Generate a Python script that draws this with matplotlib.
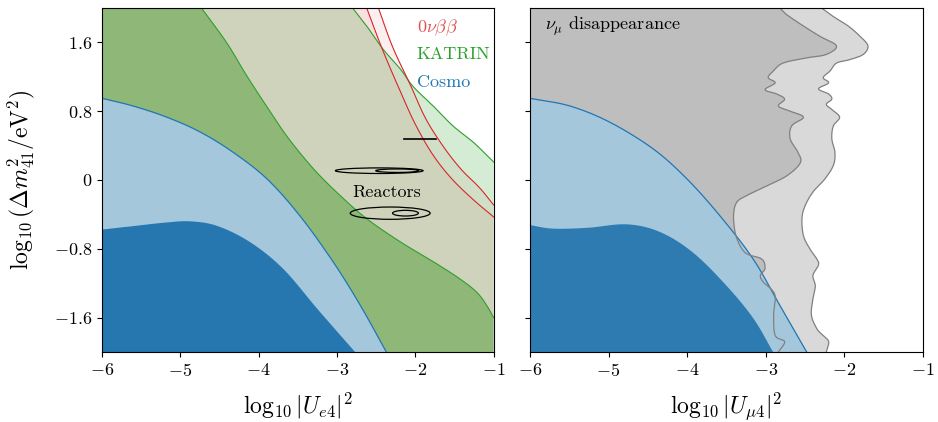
import numpy as np
import matplotlib
matplotlib.use('Agg')
from matplotlib import pyplot as plt
from matplotlib.patches import Ellipse

plt.rcParams['font.family'] = 'serif'
plt.rcParams['font.serif'] = ['cmr10', 'DejaVu Serif']
plt.rcParams['mathtext.fontset'] = 'cm'
plt.rcParams['axes.unicode_minus'] = False

xlim = (-6, -1)
ylim = (-2, 2)
xticks = [-6, -5, -4, -3, -2, -1]
xticklabels = ['$-6$', '$-5$', '$-4$', '$-3$', '$-2$', '$-1$']
yticks = [-1.6, -0.8, 0, 0.8, 1.6]
yticklabels = ['$-1.6$', '$-0.8$', '$0$', '$0.8$', '$1.6$']

# cosmology (electron panel), y as function of x
cosmo_e_outer_x = [-6, -5.60, -5.17, -4.75, -4.33, -3.89, -3.47, -3.05, -2.70, -2.37]
cosmo_e_outer_y = [0.95, 0.86, 0.73, 0.56, 0.325, 0.01, -0.42, -0.95, -1.46, -2.0]
cosmo_e_inner_x = [-6, -5.60, -5.20, -4.88, -4.53, -4.11, -3.69, -3.25, -2.77]
cosmo_e_inner_y = [-0.57, -0.53, -0.49, -0.475, -0.53, -0.72, -1.03, -1.50, -2.0]

# cosmology (muon panel)
cosmo_m_outer_x = [-6, -5.49, -4.98, -4.43, -4.0, -3.58, -3.16, -2.82, -2.48]
cosmo_m_outer_y = [0.95, 0.86, 0.67, 0.36, 0.01, -0.42, -0.92, -1.46, -2.0]
cosmo_m_inner_x = [-6, -5.71, -5.27, -4.77, -4.35, -3.93, -3.50, -3.16, -2.91]
cosmo_m_inner_y = [-0.52, -0.56, -0.55, -0.51, -0.60, -0.84, -1.23, -1.61, -2.0]

# KATRIN contours, points from top edge to right edge
katrin_in_x = [-4.73, -4.41, -4.15, -3.90, -3.64, -3.30, -2.96, -2.62, -2.19, -1.77, -1.43, -1.21, -1.08, -1.0]
katrin_in_y = [2.0, 1.6, 1.21, 0.86, 0.51, 0.13, -0.18, -0.45, -0.72, -0.95, -1.15, -1.31, -1.47, -1.60]
katrin_out_x = [-2.80, -2.62, -2.41, -2.19, -2.03, -1.77, -1.52, -1.26, -1.0]
katrin_out_y = [2.0, 1.79, 1.52, 1.29, 1.09, 0.86, 0.63, 0.44, 0.21]

# 0vbb contours
bb_a_x = [-2.62, -2.42, -2.20, -2.00, -1.78, -1.54, -1.27, -1.0]
bb_a_y = [2.0, 1.52, 1.05, 0.65, 0.30, 0.02, -0.22, -0.43]
bb_b_x = [-2.47, -2.29, -2.06, -1.87, -1.65, -1.42, -1.18, -1.0]
bb_b_y = [2.0, 1.55, 1.10, 0.72, 0.40, 0.13, -0.09, -0.29]

# reactor contours: centre x, centre y, width, height
reac_cx = [-2.46, -2.23, -2.32, -2.125]
reac_cy = [0.108, 0.108, -0.386, -0.386]
reac_w = [1.12, 0.55, 1.02, 0.33]
reac_h = [0.065, 0.04, 0.143, 0.066]
reac_bar_x = [-2.15, -1.73]
reac_bar_y = [0.475, 0.475]

# numu disappearance, x as function of y
dis_in_y = [2.0, 1.92, 1.79, 1.67, 1.56, 1.46, 1.42, 1.36, 1.27, 1.19, 1.13, 1.05, 1.00, 0.94,
            0.86, 0.80, 0.73, 0.63, 0.48, 0.32, 0.20, 0.05, -0.07, -0.18, -0.26, -0.41, -0.61,
            -0.76, -0.86, -0.92, -1.03, -1.11, -1.19, -1.27, -1.36, -1.57, -1.81, -1.88, -2.0]
dis_in_x = [-2.82, -2.73, -2.52, -2.31, -2.10, -2.23, -2.48, -2.78, -2.90, -2.97, -2.88, -3.01, -2.86, -2.76,
            -2.84, -2.69, -2.52, -2.67, -2.69, -2.59, -2.56, -2.73, -2.99, -3.24, -3.37, -3.41, -3.39,
            -3.33, -3.24, -3.05, -3.01, -3.07, -3.03, -2.93, -2.88, -2.90, -2.88, -2.76, -2.84]
dis_out_y = [2.0, 1.90, 1.79, 1.67, 1.56, 1.46, 1.40, 1.36, 1.27, 1.19, 1.13, 1.06, 1.00, 0.94,
             0.88, 0.82, 0.73, 0.63, 0.48, 0.32, 0.17, 0.01, -0.14, -0.30, -0.45, -0.65, -0.80,
             -0.92, -0.99, -1.11, -1.23, -1.38, -1.57, -1.73, -1.81, -1.88, -2.0]
dis_out_x = [-2.29, -2.14, -1.95, -1.80, -1.70, -1.76, -1.93, -2.10, -2.18, -2.27, -2.20, -2.33, -2.20, -2.16,
             -2.23, -2.16, -2.06, -2.14, -2.16, -2.12, -2.14, -2.25, -2.40, -2.50, -2.54, -2.52, -2.44,
             -2.35, -2.33, -2.40, -2.37, -2.40, -2.42, -2.35, -2.27, -2.20, -2.23]

c_red = '#d62728'
c_green = '#2ca02c'
c_blue = '#1f77b4'


def smooth(xs, ys, n=16):
    # catmull-rom curve through the read-off points, only for drawing
    p = np.column_stack([xs, ys]).astype(float)
    p = np.vstack([2 * p[0] - p[1], p, 2 * p[-1] - p[-2]])
    t = np.linspace(0, 1, n, endpoint=False)[:, None]
    out = []
    for i in range(1, len(p) - 2):
        p0, p1, p2, p3 = p[i - 1], p[i], p[i + 1], p[i + 2]
        out.append(0.5 * (2 * p1 + (p2 - p0) * t + (2 * p0 - 5 * p1 + 4 * p2 - p3) * t**2
                          + (3 * p1 - p0 - 3 * p2 + p3) * t**3))
    out.append(p[-2][None, :])
    out = np.vstack(out)
    return out[:, 0], out[:, 1]


def left_of(xs, ys):
    # polygon of everything left of a curve that runs from top edge to right edge
    px = list(xs) + [xlim[1], xlim[0], xlim[0]]
    py = list(ys) + [ylim[0], ylim[0], ylim[1]]
    return px, py


def cosmo(ax, ox, oy, ix, iy, dark):
    ox, oy = smooth(ox, oy)
    ix, iy = smooth(ix, iy)
    ax.fill_between(ox, ylim[0], oy, color='#a5c7dc', lw=0, zorder=3)
    ax.plot(ox, oy, color=c_blue, lw=0.9, zorder=3.1)
    ax.fill_between(ix, ylim[0], iy, color=dark, lw=0, zorder=3.2)


fig = plt.figure(figsize=(9.38, 4.22), dpi=100)
ax1 = fig.add_axes([0.1087, 0.166, 0.4175, 0.815])
ax2 = fig.add_axes([0.5650, 0.166, 0.4190, 0.815])

# left panel
kin = smooth(katrin_in_x, katrin_in_y)
kout = smooth(katrin_out_x, katrin_out_y)
bba = smooth(bb_a_x, bb_a_y)
bbb = smooth(bb_b_x, bb_b_y)
ax1.fill(*left_of(*bbb), color=c_red, alpha=0.072, lw=0)
ax1.fill(*left_of(*bba), color=c_red, alpha=0.072, lw=0)
ax1.fill(*left_of(*kout), color=c_green, alpha=0.2, lw=0)
ax1.fill(*left_of(*kin), color='#509c36', alpha=0.5, lw=0)
ax1.plot(*kin, color=c_green, lw=0.8)
ax1.plot(*kout, color=c_green, lw=0.8)
ax1.plot(*bba, color=c_red, lw=0.8)
ax1.plot(*bbb, color=c_red, lw=0.8)
cosmo(ax1, cosmo_e_outer_x, cosmo_e_outer_y, cosmo_e_inner_x, cosmo_e_inner_y, '#2677b0')

for cx, cy, w, h in zip(reac_cx, reac_cy, reac_w, reac_h):
    ax1.add_patch(Ellipse((cx, cy), w, h, fill=False, ec='k', lw=0.9, zorder=4))
ax1.plot(reac_bar_x, reac_bar_y, color='k', lw=1.2, zorder=4)

ax1.text(-2.36, -0.14, 'Reactors', fontsize=13, ha='center', va='center', zorder=5)
ax1.text(-1.98, 1.77, r'$0\nu\beta\beta$', color=c_red, alpha=0.8, fontsize=13, va='center')
ax1.text(-1.98, 1.46, 'KATRIN', color=c_green, fontsize=13, va='center')
ax1.text(-1.98, 1.14, 'Cosmo', color=c_blue, fontsize=13, va='center')

ax1.set_xlabel(r'$\log_{10}|U_{e4}|^2$', fontsize=17)
ax1.set_ylabel(r'$\log_{10}(\Delta m^2_{41}/\mathrm{eV}^2)$', fontsize=17)
ax1.yaxis.set_label_coords(-0.165, 0.5)

# right panel
dout = smooth(dis_out_x, dis_out_y, n=6)
din = smooth(dis_in_x, dis_in_y, n=6)
ax2.fill(list(dout[0]) + [xlim[0], xlim[0]], list(dout[1]) + [ylim[0], ylim[1]], color='#d9d9d9', lw=0)
ax2.fill(list(din[0]) + [xlim[0], xlim[0]], list(din[1]) + [ylim[0], ylim[1]], color='#bebebe', lw=0)
cosmo(ax2, cosmo_m_outer_x, cosmo_m_outer_y, cosmo_m_inner_x, cosmo_m_inner_y, '#2e7bb2')
ax2.plot(*dout, color='#808080', lw=0.9, zorder=3.5)
ax2.plot(*din, color='#808080', lw=0.9, zorder=3.5)
ax2.text(-5.81, 1.79, r'$\nu_\mu$ disappearance', fontsize=13, va='center', zorder=5)
ax2.set_xlabel(r'$\log_{10}|U_{\mu4}|^2$', fontsize=17)

for ax in (ax1, ax2):
    ax.set_xlim(*xlim)
    ax.set_ylim(*ylim)
    ax.set_xticks(xticks)
    ax.set_xticklabels(xticklabels)
    ax.set_yticks(yticks)
    ax.tick_params(labelsize=13)
    ax.xaxis.set_label_coords(0.5, -0.113)
    for s in ax.spines.values():
        s.set_zorder(6)
ax1.set_yticklabels(yticklabels)
ax2.set_yticklabels([])

fig.savefig('out.png', dpi=100)
